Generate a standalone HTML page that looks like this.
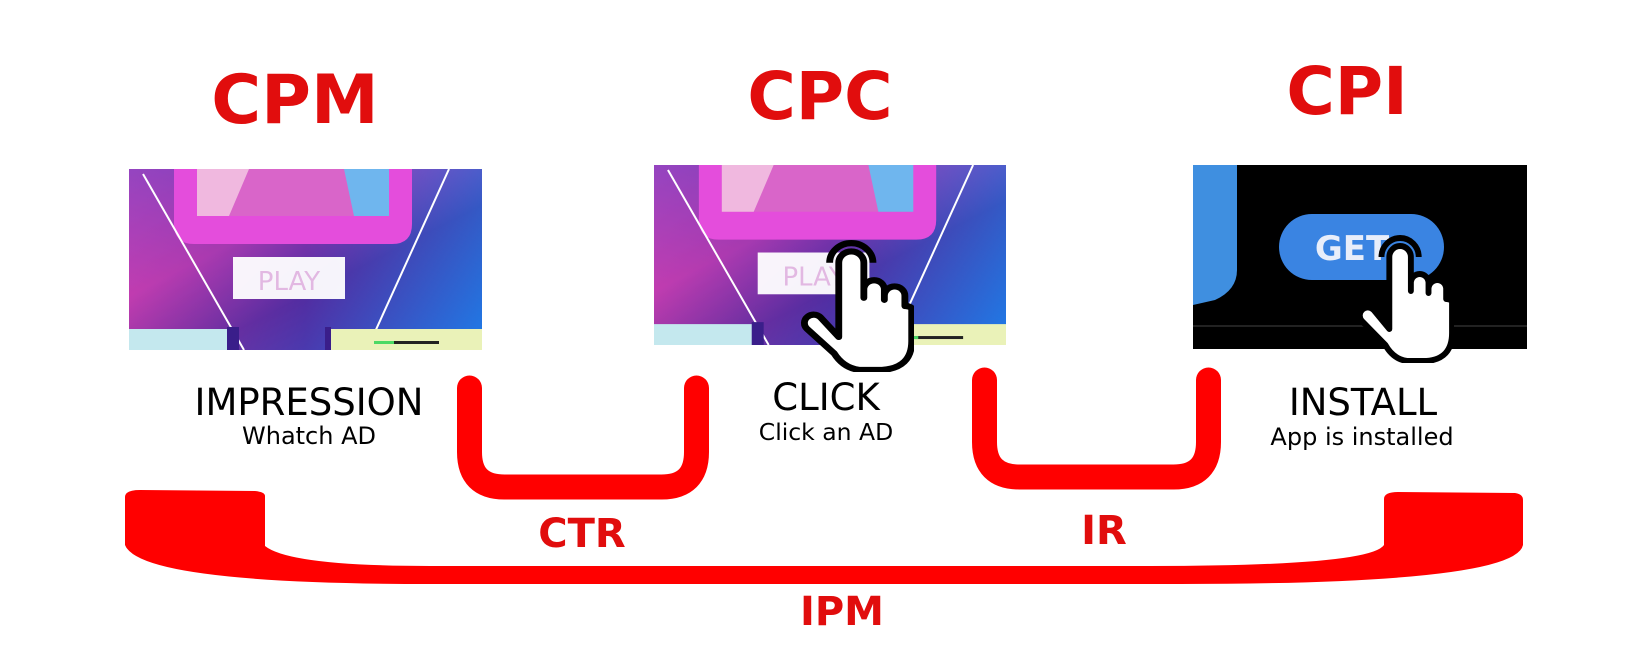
<!DOCTYPE html>
<html><head><meta charset="utf-8"><style>
html,body{margin:0;padding:0;background:#fff;width:1640px;height:664px;overflow:hidden}
svg{display:block}
.t{font-family:"DejaVu Sans","Liberation Sans",sans-serif;text-anchor:middle}
.r{fill:#e10d0d;font-weight:bold}
</style></head><body>
<svg width="1640" height="664" viewBox="0 0 1640 664" xmlns="http://www.w3.org/2000/svg">
<defs>
<linearGradient id="g1" x1="0" y1="0" x2="1" y2="1">
<stop offset="0" stop-color="#6a4fd8"/><stop offset="0.35" stop-color="#c23fb8"/><stop offset="0.6" stop-color="#4a2a9a"/><stop offset="1" stop-color="#1f6fe0"/>
</linearGradient>
<linearGradient id="g2" x1="0" y1="0" x2="1" y2="0">
<stop offset="0" stop-color="#c03aa8"/><stop offset="0.5" stop-color="#5a2fa8"/><stop offset="1" stop-color="#1e88f0"/>
</linearGradient>
<g id="game">
<rect x="0" y="0" width="353" height="181" fill="url(#g1)"/>
<rect x="0" y="0" width="353" height="181" fill="url(#g2)" opacity="0.5"/>
<path d="M45,0 H283 V55 Q283,75 263,75 H65 Q45,75 45,55 Z" fill="#e44ddc"/>
<path d="M68,0 H260 V47 H68 Z" fill="#d965c9"/>
<path d="M68,0 H120 L100,47 H68 Z" fill="#f0b8df"/>
<path d="M215,0 H260 V47 H225 Z" fill="#6fb6ee"/>
<line x1="14" y1="5" x2="115" y2="181" stroke="#fff" stroke-width="2"/>
<line x1="320" y1="0" x2="245" y2="165" stroke="#fff" stroke-width="2"/>
<rect x="104" y="88" width="112" height="42" fill="#fff" opacity="0.95"/>
<text x="160" y="121" class="t" font-size="26" fill="#e2b8e2">PLAY</text>
<rect x="0" y="160" width="108" height="21" fill="#c4e8ee"/>
<rect x="200" y="160" width="153" height="21" fill="#eaf2b8"/>
<rect x="98" y="158" width="12" height="23" fill="#3a1e8a"/>
<rect x="196" y="158" width="6" height="23" fill="#3a1e8a"/>
<rect x="245" y="172" width="65" height="3" fill="#222"/>
<rect x="245" y="172" width="20" height="3" fill="#4cd964"/>
</g>
<g id="hand">
<path d="M26,24 A19,19 0 0 1 64,24" fill="none" stroke="#000" stroke-width="6"/>
<path d="M34,72 L34,24 a11,11 0 0 1 22,0 L56,58 L56,50 a9,9 0 0 1 18,0 L74,60 L74,56 a9,9 0 0 1 18,0 L92,66 L92,66 a8,8 0 0 1 6,2 L98,100 Q98,126 72,128 L52,128 Q38,126 30,112 L6,88 a8,8 0 0 1 12,-11 L34,96 Z" fill="#fff" stroke="#000" stroke-width="6" stroke-linejoin="round"/>
</g>
</defs>

<text x="295" y="123" class="t r" font-size="68">CPM</text>
<text x="820" y="119" class="t r" font-size="66">CPC</text>
<text x="1347" y="114" class="t r" font-size="66">CPI</text>

<svg x="129" y="169" width="353" height="181" viewBox="0 0 353 181" preserveAspectRatio="none"><use href="#game"/></svg>
<svg x="654" y="165" width="352" height="180" viewBox="0 0 353 181" preserveAspectRatio="none"><use href="#game"/></svg>

<rect x="1193" y="165" width="334" height="184" fill="#000"/>
<path d="M1193,165 H1237 V270 Q1237,290 1215,300 L1193,305 Z" fill="#3f8fe0"/>
<rect x="1193" y="325" width="334" height="2" fill="#222"/>
<rect x="1279" y="214" width="165" height="66" rx="33" fill="#3a84e2"/>
<text x="1352" y="260" class="t" font-size="34" font-weight="bold" fill="#e8eefa">GET</text>

<svg x="800" y="238" width="114" height="134" viewBox="0 0 100 130" preserveAspectRatio="none"><use href="#hand"/></svg>
<svg x="1356" y="233" width="98" height="130" viewBox="0 0 100 130" preserveAspectRatio="none"><use href="#hand"/></svg>

<text x="309" y="415" class="t" font-size="37" fill="#000">IMPRESSION</text>
<text x="309" y="444" class="t" font-size="24" fill="#000">Whatch AD</text>
<text x="826" y="410" class="t" font-size="37" fill="#000">CLICK</text>
<text x="826" y="440" class="t" font-size="23.5" fill="#000">Click an AD</text>
<text x="1363" y="415" class="t" font-size="37" fill="#000">INSTALL</text>
<text x="1362" y="445" class="t" font-size="24" fill="#000">App is installed</text>

<path d="M469.5,388 V452 Q469.5,487 504.5,487 H661.5 Q696.5,487 696.5,452 V388" fill="none" stroke="#f00" stroke-width="25" stroke-linecap="round"/>
<path d="M984.5,380 V442 Q984.5,477 1019.5,477 H1173.5 Q1208.5,477 1208.5,442 V380" fill="none" stroke="#f00" stroke-width="25" stroke-linecap="round"/>

<path d="M125,497 Q125,490 140,490 L255,491 Q265,492 265,496 L265,546 Q290,566 430,566 L1150,566 Q1370,566 1384,545 L1384,499 Q1384,492 1398,492 L1515,493 Q1523,494 1523,500 L1523,545 Q1515,584 1180,584 L430,584 Q140,584 125,545 Z" fill="#f00"/>

<text x="582" y="547" class="t r" font-size="40">CTR</text>
<text x="1104" y="544" class="t r" font-size="40">IR</text>
<text x="842" y="625" class="t r" font-size="40">IPM</text>
</svg>
</body></html>
